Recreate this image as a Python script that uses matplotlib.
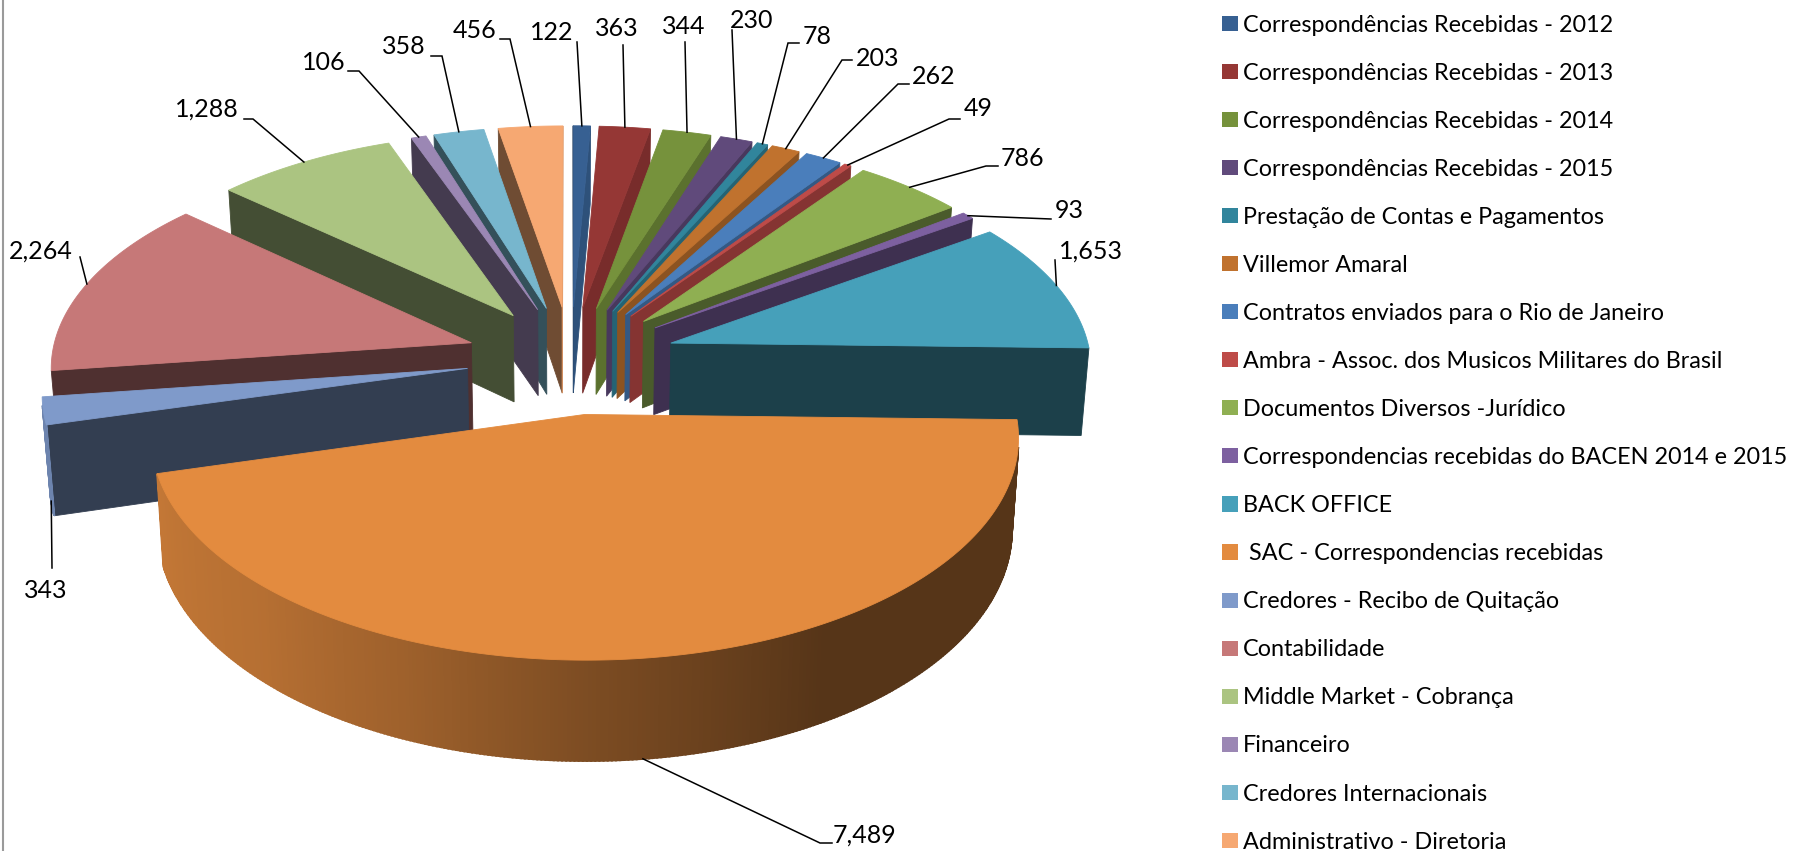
import numpy as np
import matplotlib
matplotlib.use("Agg")
import matplotlib.pyplot as plt
from matplotlib.patches import Patch
from matplotlib.colors import to_rgb

categories = [
    "Correspondências Recebidas - 2012", "Correspondências Recebidas - 2013",
    "Correspondências Recebidas - 2014", "Correspondências Recebidas - 2015",
    "Prestação de Contas e Pagamentos", "Villemor Amaral",
    "Contratos enviados para o Rio de Janeiro",
    "Ambra - Assoc. dos Musicos Militares do Brasil",
    "Documentos Diversos -Jurídico",
    "Correspondencias recebidas do BACEN 2014 e 2015",
    "BACK OFFICE", " SAC - Correspondencias recebidas",
    "Credores - Recibo de Quitação", "Contabilidade",
    "Middle Market - Cobrança", "Financeiro",
    "Credores Internacionais", "Administrativo - Diretoria",
]
values = [122, 363, 344, 230, 78, 203, 262, 49, 786, 93, 1653, 7489,
          343, 2264, 1288, 106, 358, 456]
colors = ["#376092", "#953735", "#76923C", "#604A7B", "#31859C", "#C0722E",
          "#4A7EBB", "#BE4B48", "#8FAF52", "#7D60A0", "#46A0BA", "#E38B3F",
          "#7F9ACA", "#C67878", "#ABC481", "#9B87B4", "#77B6CD", "#F6A872"]
explode = [0.25] * 11 + [0.265] + [0.25] * 6

# leader line bends and label centres, in pixels
leader_bends = [
    [(577, 42)], [(623, 45)], [(685, 42)], [(732, 30)],
    [(788, 43), (799, 43)], [(842, 60), (852, 60)], [(898, 84), (909, 84)],
    [(949, 119), (960, 119)], [(986, 166), (998, 166)], [(1051, 219)],
    [(1055, 260)], [(820, 843), (832, 843)], [(52, 568)], [(80, 257)],
    [(253, 119), (244, 119)], [(359, 71), (348, 71)], [(442, 56), (431, 56)],
    [(510, 39), (500, 39)],
]
label_pos = [
    (552, 32), (617, 29), (684, 27), (752, 20), (817, 36), (878, 59),
    (934, 76), (978, 109), (1022, 159), (1069, 210), (1091, 251), (865, 835),
    (46, 590), (41, 251), (207, 109), (324, 63), (404, 46), (475, 31),
]

plt.rcParams["font.family"] = ["Lato", "DejaVu Sans"]

# projection of the tilted pie
CX, CY = 571, 358
A, B, K = 420, 209, 0.10
DEPTH = 88
BOTTOM_SCALE = 0.985


def project(x, y, bottom=False):
    w = 1 + K * y
    px = A * x / w
    py = -B * y / w
    if bottom:
        px = px * BOTTOM_SCALE
        py = py + DEPTH / w
    return CX + px, CY + py


def shade(color, f):
    return tuple(c * f for c in to_rgb(color))


def wall_shade(normal):
    return np.interp(normal % 360, [90, 126, 145, 160, 181, 222, 260, 360],
                     [0.85, 0.7, 0.5, 0.4, 0.4, 0.4, 0.45, 0.45])


def rim_shade(theta):
    return np.interp(theta, [90, 150, 180, 203, 224, 255],
                     [0.38, 0.38, 0.55, 0.7, 0.8, 0.86])


def draw_quad(ax, p, q, color, lw=0.6):
    # p -> q runs clockwise seen from above, keep only walls facing the viewer
    x0, y0 = project(*p)
    x1, y1 = project(*q)
    x2, y2 = project(*q, bottom=True)
    x3, y3 = project(*p, bottom=True)
    xs = [x0, x1, x2, x3]
    ys = [y0, y1, y2, y3]
    area = sum(xs[i] * ys[(i + 1) % 4] - xs[(i + 1) % 4] * ys[i] for i in range(4))
    if area < 0:
        ax.fill(xs, ys, color=color, lw=lw)


def draw_slice(ax, t1, t2, color, e):
    mid = np.radians((t1 + t2) / 2)
    ox, oy = e * np.sin(mid), e * np.cos(mid)
    n = max(int(t2 - t1) * 2, 4)
    th = np.linspace(t1, t2, n)
    rx = ox + np.sin(np.radians(th))
    ry = oy + np.cos(np.radians(th))

    draw_quad(ax, (ox, oy), (rx[0], ry[0]), shade(color, wall_shade(t1 - 90)))
    draw_quad(ax, (rx[-1], ry[-1]), (ox, oy), shade(color, wall_shade(t2 + 90)))
    for i in range(n - 1):
        f = rim_shade((th[i] + th[i + 1]) / 2)
        draw_quad(ax, (rx[i], ry[i]), (rx[i + 1], ry[i + 1]), shade(color, f), lw=1.5)

    tx, ty = project(np.r_[ox, rx], np.r_[oy, ry])
    ax.fill(tx, ty, color=color, lw=0.6)


def main():
    fig = plt.figure(figsize=(18.06, 8.51), dpi=100)
    ax = fig.add_axes([0, 0, 1, 1])
    ax.set_xlim(0, 1806)
    ax.set_ylim(851, 0)
    ax.axis("off")

    ax.plot([3, 3], [0, 851], color="#9a9a9a", lw=1.5)

    edges = np.cumsum([0] + values) / sum(values) * 360
    mids = (edges[:-1] + edges[1:]) / 2

    # back slices first
    order = np.argsort(-np.cos(np.radians(mids)))
    for i in order:
        draw_slice(ax, edges[i], edges[i + 1], colors[i], explode[i])

    for i, v in enumerate(values):
        m = np.radians(mids[i])
        r = 1 + explode[i]
        start = project(r * np.sin(m), r * np.cos(m), bottom=90 < mids[i] < 270)
        pts = [start] + leader_bends[i]
        ax.plot([p[0] for p in pts], [p[1] for p in pts], color="black", lw=1.1,
                solid_joinstyle="miter")
        ax.text(label_pos[i][0], label_pos[i][1], f"{v:,}", fontsize=18,
                ha="center", va="center", color="black")

    handles = [Patch(facecolor=c, edgecolor="none") for c in colors]
    ax.legend(handles, categories, loc="upper left", bbox_to_anchor=(1222, 14.5),
              bbox_transform=ax.transData, frameon=False, fontsize=16.8,
              borderpad=0, borderaxespad=0, handlelength=0.68, handleheight=0.62,
              handletextpad=0.22, labelspacing=1.16, labelcolor="black")

    fig.savefig("out.png", dpi=100)


if __name__ in {"__main__", "__mp_main__"}:
    main()
